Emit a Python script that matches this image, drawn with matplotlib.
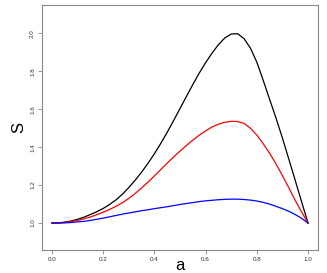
import matplotlib
matplotlib.use("Agg")
import matplotlib.pyplot as plt

a_vals = [0.0, 0.025, 0.05, 0.075, 0.1, 0.125, 0.15, 0.175, 0.2, 0.225, 0.25, 0.275, 0.3,
          0.325, 0.35, 0.375, 0.4, 0.425, 0.45, 0.475, 0.5, 0.525, 0.55, 0.575, 0.6, 0.625,
          0.65, 0.675, 0.7, 0.725, 0.75, 0.775, 0.8, 0.825, 0.85, 0.875, 0.9, 0.925, 0.95,
          0.975, 1.0]
s_black = [1.000, 1.001, 1.005, 1.011, 1.020, 1.031, 1.045, 1.060, 1.077, 1.098, 1.122,
           1.152, 1.187, 1.226, 1.268, 1.315, 1.365, 1.420, 1.478, 1.540, 1.603, 1.667,
           1.730, 1.790, 1.845, 1.895, 1.940, 1.975, 1.996, 1.998, 1.972, 1.922, 1.848,
           1.752, 1.652, 1.553, 1.448, 1.337, 1.225, 1.112, 1.000]
s_red = [1.000, 1.001, 1.003, 1.008, 1.014, 1.022, 1.032, 1.044, 1.057, 1.072, 1.088,
         1.107, 1.130, 1.156, 1.185, 1.216, 1.248, 1.282, 1.316, 1.348, 1.379, 1.409,
         1.437, 1.463, 1.486, 1.506, 1.521, 1.531, 1.536, 1.535, 1.525, 1.500, 1.464,
         1.418, 1.368, 1.312, 1.250, 1.186, 1.120, 1.058, 1.000]
s_blue = [1.000, 1.000, 1.001, 1.003, 1.006, 1.009, 1.014, 1.020, 1.026, 1.033, 1.040,
          1.047, 1.053, 1.059, 1.065, 1.070, 1.076, 1.081, 1.086, 1.092, 1.098, 1.103,
          1.108, 1.113, 1.117, 1.120, 1.123, 1.125, 1.126, 1.126, 1.124, 1.121, 1.116,
          1.109, 1.100, 1.088, 1.076, 1.062, 1.045, 1.025, 1.000]
x_ticks = [0.0, 0.2, 0.4, 0.6, 0.8, 1.0]
y_ticks = [1.0, 1.2, 1.4, 1.6, 1.8, 2.0]

plt.rcParams['font.family'] = ['Liberation Sans', 'DejaVu Sans']
fig = plt.figure(figsize=(3.27, 2.73), dpi=100)
ax = fig.add_axes([0.1284, 0.0842, 0.9725 - 0.1284, 0.9817 - 0.0842])

lw = 0.9
ax.plot(a_vals, s_black, color='black', lw=lw, solid_joinstyle='round')
ax.plot(a_vals, s_red, color='red', lw=lw, solid_joinstyle='round')
ax.plot(a_vals, s_blue, color='blue', lw=lw, solid_joinstyle='round')

ax.set_xlim(-0.039, 1.039)
ax.set_ylim(0.858, 2.149)
ax.set_xticks(x_ticks)
ax.set_xticklabels([f"{v:.1f}" for v in x_ticks])
ax.set_yticks(y_ticks)
ax.set_yticklabels([f"{v:.1f}" for v in y_ticks], rotation=90, va='center')
for sp in ax.spines.values():
    sp.set_color('#888888')
    sp.set_linewidth(0.8)
ax.tick_params(axis='both', direction='out', length=3, width=0.6, color='#888888',
               labelsize=4.5, labelcolor='#333333', pad=2)

ax.set_xlabel('a', fontsize=12, labelpad=-3)
ax.set_ylabel('S', fontsize=12, labelpad=3)

fig.savefig('out.png', dpi=100)
